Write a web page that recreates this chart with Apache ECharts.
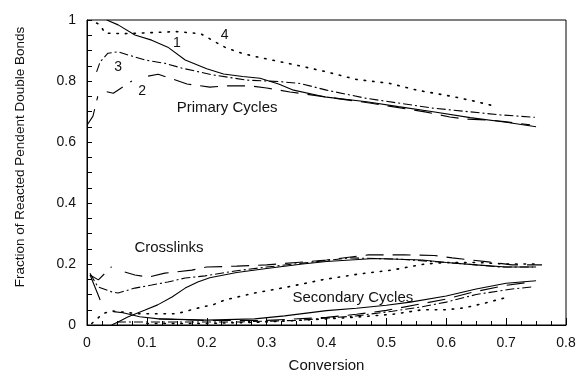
<!DOCTYPE html>
<html>
<head>
<meta charset="utf-8">
<script src="https://cdn.jsdelivr.net/npm/echarts@6/dist/echarts.min.js"></script>
<style>
  html, body { margin: 0; padding: 0; background: #fff; }
  #chart { width: 579px; height: 376px; }
</style>
</head>
<body>
<div id="chart"></div>
<script>
// Tick labels
const xTicks = [0, 0.1, 0.2, 0.3, 0.4, 0.5, 0.6, 0.7, 0.8];
const yTicks = [0, 0.2, 0.4, 0.6, 0.8, 1];

// Primary cycles, runs 1-4: [conversion, fraction]
const primary1 = [[0.033,1.0],[0.052,0.984],[0.08,0.951],[0.108,0.934],[0.135,0.911],[0.164,0.869],[0.2,0.84],[0.228,0.823],[0.26,0.815],[0.289,0.809],[0.32,0.79],[0.345,0.77],[0.4,0.747],[0.467,0.732],[0.52,0.716],[0.578,0.699],[0.64,0.68],[0.7,0.665],[0.75,0.65]];
const primary2 = [[0.0,0.655],[0.01,0.685],[0.018,0.75],[0.026,'-'],[0.033,0.765],[0.044,0.76],[0.075,0.8],[0.09,'-'],[0.102,0.816],[0.119,0.822],[0.139,0.809],[0.167,0.79],[0.205,0.78],[0.233,0.784],[0.272,0.784],[0.3,0.777],[0.339,0.764],[0.434,0.738],[0.472,0.728],[0.567,0.698],[0.606,0.682],[0.634,0.675],[0.673,0.672],[0.701,0.666],[0.74,0.656]];
const primary3 = [[0.016,0.83],[0.022,0.863],[0.035,0.891],[0.052,0.896],[0.069,0.885],[0.097,0.869],[0.13,0.858],[0.159,0.842],[0.21,0.82],[0.267,0.803],[0.322,0.798],[0.356,0.792],[0.4,0.77],[0.467,0.743],[0.578,0.711],[0.69,0.689],[0.748,0.681]];
const primary4 = [[0.016,0.99],[0.022,0.984],[0.03,0.957],[0.06,0.955],[0.1,0.958],[0.15,0.962],[0.19,0.955],[0.217,0.925],[0.233,0.908],[0.26,0.89],[0.284,0.879],[0.35,0.852],[0.4,0.83],[0.45,0.805],[0.506,0.792],[0.551,0.77],[0.611,0.749],[0.651,0.732],[0.684,0.716]];

// Crosslinks, runs 1-4
const cross1 = [[0.005,0.165],[0.022,0.082],[0.03,'-'],[0.041,0.0],[0.052,0.01],[0.068,0.026],[0.097,0.049],[0.118,0.066],[0.142,0.092],[0.164,0.121],[0.185,0.141],[0.205,0.155],[0.25,0.172],[0.3,0.185],[0.36,0.2],[0.4,0.208],[0.48,0.218],[0.56,0.213],[0.6,0.205],[0.65,0.197],[0.7,0.19],[0.75,0.19]];
const cross2 = [[0.005,0.164],[0.019,0.148],[0.041,0.191],[0.05,'-'],[0.063,0.174],[0.08,0.164],[0.102,0.157],[0.13,0.17],[0.175,0.18],[0.2,0.19],[0.25,0.193],[0.3,0.197],[0.35,0.205],[0.4,0.213],[0.47,0.23],[0.53,0.23],[0.58,0.228],[0.61,0.22],[0.67,0.207],[0.71,0.197],[0.76,0.197]];
const cross3 = [[0.005,0.17],[0.018,0.125],[0.042,0.108],[0.052,0.105],[0.08,0.121],[0.108,0.131],[0.135,0.141],[0.164,0.154],[0.197,0.161],[0.25,0.178],[0.3,0.19],[0.36,0.203],[0.44,0.22],[0.52,0.216],[0.6,0.205],[0.65,0.197],[0.69,0.19],[0.745,0.19]];
const cross4 = [[0.008,0.005],[0.027,0.038],[0.041,0.046],[0.085,0.037],[0.15,0.037],[0.194,0.06],[0.21,0.066],[0.23,0.082],[0.28,0.105],[0.336,0.125],[0.392,0.148],[0.453,0.167],[0.509,0.18],[0.564,0.2],[0.6,0.205],[0.65,0.205],[0.7,0.2],[0.75,0.2]];

// Secondary cycles, runs 1-4
const second1 = [[0.044,0.044],[0.06,0.04],[0.088,0.027],[0.12,0.02],[0.2,0.016],[0.28,0.02],[0.33,0.03],[0.4,0.047],[0.45,0.055],[0.5,0.065],[0.54,0.075],[0.6,0.095],[0.65,0.118],[0.7,0.137],[0.75,0.145]];
const second2 = [[0.12,0.02],[0.2,0.015],[0.3,0.015],[0.4,0.025],[0.45,0.035],[0.5,0.048],[0.56,0.07],[0.6,0.085],[0.645,0.108],[0.7,0.13],[0.745,0.142]];
const second3 = [[0.05,0.01],[0.15,0.01],[0.25,0.01],[0.35,0.015],[0.45,0.03],[0.51,0.045],[0.56,0.06],[0.6,0.075],[0.65,0.1],[0.71,0.118],[0.745,0.125]];
const second4 = [[0.1,0.005],[0.2,0.005],[0.3,0.01],[0.4,0.02],[0.45,0.026],[0.51,0.035],[0.56,0.05],[0.6,0.05],[0.63,0.056],[0.665,0.072],[0.7,0.09]];

// Line styles per run: 1 solid, 2 long dash, 3 dash-dot, 4 dotted
const dashes = {
  1: 'solid',
  2: [18, 9],
  3: [9, 3, 2, 3],
  4: [1.5, 7]
};

// Curve annotations in data coordinates
const notes = [
  { text: '1', at: [0.15, 0.924], size: 14 },
  { text: '2', at: [0.092, 0.767], size: 14 },
  { text: '3', at: [0.052, 0.846], size: 14 },
  { text: '4', at: [0.23, 0.951], size: 14 },
  { text: 'Primary Cycles', at: [0.234, 0.711], size: 15 },
  { text: 'Crosslinks', at: [0.137, 0.254], size: 15 },
  { text: 'Secondary Cycles', at: [0.444, 0.09], size: 15 }
];

const FONT = '"Liberation Sans", Arial, Helvetica, sans-serif';
const INK = '#111';

function line(name, data, run) {
  return {
    name: name,
    type: 'line',
    data: data,
    showSymbol: false,
    symbol: 'none',
    connectNulls: false,
    animation: false,
    silent: true,
    lineStyle: { color: '#000', width: run === 4 ? 1.6 : 1.1, type: dashes[run], cap: run === 4 ? 'round' : 'butt' }
  };
}

const chart = echarts.init(document.getElementById('chart'), null, { renderer: 'canvas' });

chart.setOption({
  backgroundColor: '#fff',
  animation: false,
  grid: { left: 87, top: 20, right: 13, bottom: 51, show: true, borderColor: '#000', borderWidth: 1, backgroundColor: 'transparent' },
  xAxis: {
    type: 'value', min: xTicks[0], max: xTicks[xTicks.length - 1], interval: 0.1,
    axisLine: { show: true, lineStyle: { color: '#000', width: 1 } },
    axisTick: { show: true, inside: true, length: 7, lineStyle: { color: '#000' } },
    minorTick: { show: true, splitNumber: 4, length: 4, lineStyle: { color: '#000' } },
    splitLine: { show: false },
    axisLabel: { color: INK, fontFamily: FONT, fontSize: 14, margin: 11,
      formatter: v => xTicks.includes(+v.toFixed(2)) ? String(+v.toFixed(2)) : '' }
  },
  yAxis: {
    type: 'value', min: yTicks[0], max: yTicks[yTicks.length - 1], interval: 0.2,
    axisLine: { show: true, lineStyle: { color: '#000', width: 1 } },
    axisTick: { show: true, inside: true, length: 5, lineStyle: { color: '#000' } },
    minorTick: { show: true, splitNumber: 4, length: 5, lineStyle: { color: '#000' } },
    splitLine: { show: false },
    axisLabel: { color: INK, fontFamily: FONT, fontSize: 14, margin: 11,
      formatter: v => String(+v.toFixed(2)) }
  },
  series: [
    line('primary1', primary1, 1), line('primary2', primary2, 2),
    line('primary3', primary3, 3), line('primary4', primary4, 4),
    line('cross1', cross1, 1), line('cross2', cross2, 2),
    line('cross3', cross3, 3), line('cross4', cross4, 4),
    line('second1', second1, 1), line('second2', second2, 2),
    line('second3', second3, 3), line('second4', second4, 4)
  ]
});

// Place annotations and axis titles once the grid is laid out
const gridRect = chart.getModel().getComponent('grid').coordinateSystem.getRect();
const graphics = notes.map(n => {
  const p = chart.convertToPixel({ gridIndex: 0 }, n.at);
  return {
    type: 'text', x: p[0], y: p[1], silent: true,
    style: { text: n.text, fill: INK, font: n.size + 'px ' + FONT, align: 'center', verticalAlign: 'middle' }
  };
});
graphics.push({
  type: 'text', x: gridRect.x + gridRect.width / 2, y: 366, silent: true,
  style: { text: 'Conversion', fill: INK, font: '15px ' + FONT, align: 'center', verticalAlign: 'middle' }
});
graphics.push({
  type: 'text', x: 20, y: 157, rotation: Math.PI / 2, silent: true,
  style: { text: 'Fraction of Reacted Pendent Double Bonds', fill: INK, font: '13.5px ' + FONT, align: 'center', verticalAlign: 'middle' }
});
chart.setOption({ graphic: graphics });
</script>
</body>
</html>
